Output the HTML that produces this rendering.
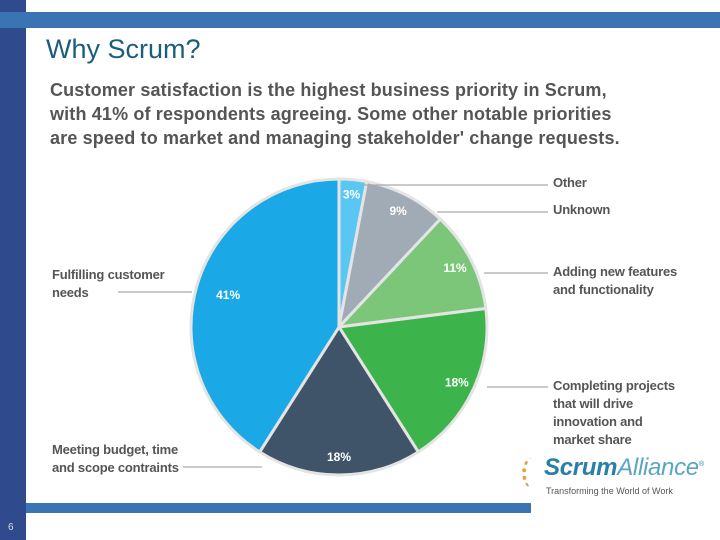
<!DOCTYPE html>
<html><head><meta charset="utf-8"><style>
body{margin:0;width:720px;height:540px;overflow:hidden;background:#fff;font-family:"Liberation Sans",sans-serif;position:relative}
.abs{position:absolute}
.lbl{position:absolute;font-size:13px;color:#555;line-height:18px;font-weight:bold;letter-spacing:-0.2px}
</style></head><body>
<div class="abs" style="left:0;top:0;width:26px;height:540px;background:#2f4b8e"></div>
<div class="abs" style="left:0;top:12px;width:720px;height:16px;background:#3b74b2"></div>
<div class="abs" style="left:26px;top:503px;width:505px;height:10px;background:#3b74b2"></div>
<div class="abs" style="left:8px;top:522px;font-size:10px;color:#ddd">6</div>
<div class="abs" style="left:46px;top:34px;font-size:27px;color:#1b5d7d">Why Scrum?</div>
<div class="abs" style="left:50px;top:78px;font-size:18px;line-height:24px;color:#555;font-weight:bold;letter-spacing:0.15px">Customer satisfaction is the highest business priority in Scrum,<br>with 41% of respondents agreeing. Some other notable priorities<br>are speed to market and managing stakeholder' change requests.</div>
<svg class="abs" style="left:0;top:0" width="720" height="540" id="svg"></svg>
<div class="lbl" style="left:553px;top:174px">Other</div>
<div class="lbl" style="left:553px;top:201px">Unknown</div>
<div class="lbl" style="left:553px;top:263px">Adding new features<br>and functionality</div>
<div class="lbl" style="left:553px;top:377px">Completing projects<br>that will drive<br>innovation and<br>market share</div>
<div class="lbl" style="left:52px;top:266px">Fulfilling customer<br>needs</div>
<div class="lbl" style="left:52px;top:441px">Meeting budget, time<br>and scope contraints</div>
<div class="abs" style="left:522px;top:454px;width:200px;height:50px">
<div style="position:absolute;left:0;top:4px;width:16px;height:30px;border-left:4px dotted #e0a050;border-radius:50%"></div>
<div style="position:absolute;left:22px;top:0;font-size:24px;color:#2a7fa8;font-style:italic;letter-spacing:-0.3px"><b>Scrum</b><span style="color:#5aa5c6">Alliance</span><sup style="font-size:7px">®</sup></div>
<div style="position:absolute;left:24px;top:32px;font-size:9px;color:#555">Transforming the World of Work</div>
</div>
<script>
const categories=["Other","Unknown","Adding new features","Completing projects","Meeting budget","Fulfilling customer needs"];
const values=[3,9,11,18,18,41];
const colors=["#5ac6f3","#a1abb6","#7cc67a","#3cb44b","#405469","#1ba8e6"];
const svg=document.getElementById('svg');
const NS="http://www.w3.org/2000/svg";
const cx=339,cy=327,r=148;
const total=values.reduce((a,b)=>a+b,0);
function pt(a,rr){return [cx+rr*Math.sin(a),cy-rr*Math.cos(a)];}
let a0=0;
values.forEach((v,i)=>{
  const a1=a0+v/total*2*Math.PI;
  const p0=pt(a0,r),p1=pt(a1,r);
  const large=(a1-a0)>Math.PI?1:0;
  const p=document.createElementNS(NS,'path');
  p.setAttribute('d',`M${cx},${cy}L${p0[0]},${p0[1]}A${r},${r} 0 ${large} 1 ${p1[0]},${p1[1]}Z`);
  p.setAttribute('fill',colors[i]);
  p.setAttribute('stroke','#e4e4e4');
  p.setAttribute('stroke-width','3');
  
  
  svg.appendChild(p);
  const m=(a0+a1)/2;
  const lr=v<5?r*0.9:(v>30?r*0.78:r*0.88);
  const lp=pt(m,lr);
  const t=document.createElementNS(NS,'text');
  t.setAttribute('x',lp[0]);t.setAttribute('y',lp[1]+4);
  t.setAttribute('text-anchor','middle');
  t.setAttribute('font-size','12');t.setAttribute('font-weight','bold');
  t.setAttribute('fill','#fff');
  t.setAttribute('font-family','Liberation Sans, sans-serif');
  t.textContent=v+'%';
  
  
  svg.appendChild(t);
  a0=a1;
});
const leaders=[[363,185,548],[437,212,548],[484,273,548],[487,387,548],[183,467,262],[118,292,192]];
leaders.forEach((l,i)=>{
  const ln=document.createElementNS(NS,'line');
  ln.setAttribute('x1',l[0]);ln.setAttribute('y1',l[1]);ln.setAttribute('x2',l[2]);ln.setAttribute('y2',l[1]);
  ln.setAttribute('stroke','#aaa');ln.setAttribute('stroke-width','1.2');
  
  
  svg.appendChild(ln);
});
</script>
</body></html>
